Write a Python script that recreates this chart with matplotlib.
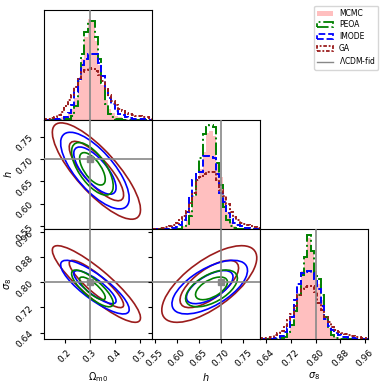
import numpy as np
import matplotlib
matplotlib.use("Agg")
import matplotlib.pyplot as plt
from matplotlib.patches import Ellipse, Patch
from matplotlib.lines import Line2D

# parameters, fiducial values and plot ranges
labels = [r"$\Omega_{\rm m0}$", r"$h$", r"$\sigma_8$"]
truths = [0.30, 0.70, 0.80]
ranges = [(0.116, 0.548), (0.543, 0.788), (0.62, 0.97)]
ticks = [[0.2, 0.3, 0.4, 0.5],
         [0.55, 0.60, 0.65, 0.70, 0.75],
         [0.64, 0.72, 0.80, 0.88, 0.96]]

methods = ["MCMC", "PEOA", "IMODE", "GA"]
colors = {"MCMC": "red", "PEOA": "green", "IMODE": "blue", "GA": "#9b1c1c"}
styles = {"PEOA": "-.", "IMODE": "--", "GA": (0, (2, 1, 1, 1))}

# 1D histograms (32 bins across each panel range, normalised to panel height)
hist_om = {
    "MCMC": [0, 0, 0, 0.005, 0.01, 0.02, 0.03, 0.06, 0.1, 0.2, 0.35, 0.55, 0.75, 0.92, 0.9, 0.72,
             0.5, 0.32, 0.18, 0.1, 0.06, 0.035, 0.02, 0.01, 0.005, 0, 0, 0, 0, 0, 0, 0],
    "PEOA": [0, 0, 0, 0, 0, 0, 0.005, 0.01, 0.03, 0.12, 0.35, 0.6, 0.8, 0.9, 0.9, 0.75,
             0.55, 0.33, 0.14, 0.05, 0.02, 0.01, 0.005, 0, 0, 0, 0, 0, 0, 0, 0, 0],
    "IMODE": [0, 0, 0, 0.005, 0.005, 0.01, 0.02, 0.06, 0.13, 0.25, 0.37, 0.5, 0.55, 0.6, 0.6, 0.6,
              0.52, 0.4, 0.28, 0.2, 0.14, 0.08, 0.055, 0.04, 0.025, 0.015, 0.01, 0.007, 0.005, 0.003, 0, 0],
    "GA": [0.005, 0.01, 0.015, 0.025, 0.04, 0.07, 0.12, 0.18, 0.22, 0.3, 0.38, 0.43, 0.45, 0.47, 0.46, 0.44,
           0.41, 0.35, 0.28, 0.22, 0.17, 0.13, 0.1, 0.075, 0.06, 0.05, 0.04, 0.035, 0.03, 0.025, 0.02, 0.015],
}
hist_h = {
    "MCMC": [0, 0, 0, 0, 0, 0, 0, 0.005, 0.01, 0.03, 0.08, 0.17, 0.3, 0.45, 0.55, 0.7,
             0.88, 0.9, 0.85, 0.6, 0.48, 0.3, 0.16, 0.07, 0.025, 0.01, 0.005, 0, 0, 0, 0, 0],
    "PEOA": [0, 0, 0, 0, 0, 0, 0, 0, 0.005, 0.02, 0.05, 0.12, 0.3, 0.5, 0.65, 0.87,
             0.93, 0.95, 0.93, 0.6, 0.4, 0.2, 0.08, 0.03, 0.01, 0.005, 0, 0, 0, 0, 0, 0],
    "IMODE": [0, 0, 0, 0, 0, 0.005, 0.01, 0.02, 0.04, 0.08, 0.16, 0.3, 0.45, 0.5, 0.52, 0.67,
              0.67, 0.66, 0.65, 0.5, 0.33, 0.25, 0.15, 0.09, 0.06, 0.04, 0.025, 0.015, 0.008, 0.004, 0, 0],
    "GA": [0.003, 0.005, 0.008, 0.012, 0.02, 0.03, 0.04, 0.06, 0.08, 0.12, 0.17, 0.24, 0.33, 0.45, 0.48, 0.5,
           0.52, 0.52, 0.52, 0.45, 0.36, 0.3, 0.23, 0.16, 0.11, 0.08, 0.06, 0.045, 0.035, 0.025, 0.02, 0.015],
}
hist_s8 = {
    "MCMC": [0, 0, 0, 0, 0, 0, 0.005, 0.015, 0.05, 0.13, 0.28, 0.42, 0.62, 0.75, 0.92, 0.8,
             0.62, 0.5, 0.35, 0.2, 0.1, 0.045, 0.015, 0.005, 0, 0, 0, 0, 0, 0, 0, 0],
    "PEOA": [0, 0, 0, 0, 0, 0, 0.005, 0.02, 0.06, 0.13, 0.25, 0.4, 0.58, 0.75, 0.95, 0.8,
             0.58, 0.55, 0.4, 0.2, 0.09, 0.035, 0.01, 0.005, 0, 0, 0, 0, 0, 0, 0, 0],
    "IMODE": [0, 0, 0, 0, 0.005, 0.01, 0.025, 0.06, 0.1, 0.2, 0.35, 0.5, 0.6, 0.61, 0.62, 0.6,
              0.55, 0.45, 0.3, 0.18, 0.12, 0.08, 0.05, 0.035, 0.02, 0.012, 0.008, 0.005, 0, 0, 0, 0],
    "GA": [0.003, 0.006, 0.01, 0.02, 0.035, 0.05, 0.07, 0.12, 0.17, 0.23, 0.3, 0.4, 0.45, 0.47, 0.48, 0.48,
           0.43, 0.33, 0.26, 0.2, 0.15, 0.11, 0.08, 0.06, 0.05, 0.04, 0.035, 0.03, 0.02, 0.015, 0.01, 0.005],
}
hists = [hist_om, hist_h, hist_s8]

# 2D contours: mean, std of (Om, h, s8) and correlations (Om-h, Om-s8, h-s8)
means = {"PEOA": [0.310, 0.678, 0.781], "IMODE": [0.320, 0.674, 0.785], "GA": [0.326, 0.673, 0.795]}
stds = {"PEOA": [0.034, 0.024, 0.024], "IMODE": [0.056, 0.035, 0.035], "GA": [0.072, 0.044, 0.050]}
corrs = {"PEOA": [-0.65, -0.80, 0.55], "IMODE": [-0.72, -0.83, 0.62], "GA": [-0.80, -0.88, 0.68]}
levels = [0.68, 0.95]
pair_idx = {(0, 1): 0, (0, 2): 1, (1, 2): 2}


def draw_contours(ax, name, i, j):
    m, s = means[name], stds[name]
    rho = corrs[name][pair_idx[(i, j)]]
    cov = np.array([[s[i] ** 2, rho * s[i] * s[j]], [rho * s[i] * s[j], s[j] ** 2]])
    vals, vecs = np.linalg.eigh(cov)
    angle = np.degrees(np.arctan2(vecs[1, 1], vecs[0, 1]))
    for lev in levels:
        r = np.sqrt(-2 * np.log(1 - lev))
        ax.add_patch(Ellipse((m[i], m[j]), 2 * r * np.sqrt(vals[1]), 2 * r * np.sqrt(vals[0]),
                             angle=angle, fill=False, ec=colors[name], lw=1.2))


fig, axes = plt.subplots(3, 3, figsize=(3.85, 3.85), dpi=100)
fig.subplots_adjust(left=0.114, right=0.956, bottom=0.12, top=0.974, wspace=0, hspace=0)

truth_kw = dict(color="#888888", lw=1.2, zorder=5)

for row in range(3):
    for col in range(3):
        ax = axes[row, col]
        if col > row:
            ax.set_axis_off()
            continue
        ax.set_xlim(ranges[col])
        ax.set_xticks(ticks[col])
        if row == col:
            edges = np.linspace(ranges[col][0], ranges[col][1], 33)
            for name in methods:
                if name == "MCMC":
                    ax.stairs(hists[col][name], edges, fill=True, color="red", alpha=0.25, lw=0)
                else:
                    ax.stairs(hists[col][name], edges, color=colors[name], ls=styles[name], lw=1.4)
            ax.set_ylim(0, 1.0)
            ax.set_yticks([])
            ax.axvline(truths[col], **truth_kw)
        else:
            for name in ["GA", "IMODE", "PEOA"]:
                draw_contours(ax, name, col, row)
            ax.set_ylim(ranges[row])
            ax.set_yticks(ticks[row])
            ax.axvline(truths[col], **truth_kw)
            ax.axhline(truths[row], **truth_kw)
            ax.plot(truths[col], truths[row], "s", color="#888888", ms=4, zorder=6)
            if col == 0:
                ax.set_ylabel(labels[row], fontsize=7)
                ax.yaxis.set_label_coords(-0.28, 0.5)
                for lab in ax.get_yticklabels():
                    lab.set_rotation(45)
                    lab.set_fontsize(6.5)
            else:
                ax.set_yticklabels([])
        if row == 2:
            ax.set_xlabel(labels[col], fontsize=7)
            ax.xaxis.set_label_coords(0.5, -0.29)
            for lab in ax.get_xticklabels():
                lab.set_rotation(45)
                lab.set_fontsize(6.5)
        else:
            ax.set_xticklabels([])
        ax.tick_params(length=3, width=0.8)

handles = [Patch(facecolor="red", alpha=0.25, label="MCMC"),
           Patch(facecolor="none", edgecolor=colors["PEOA"], ls="-.", lw=1.3, label="PEOA"),
           Patch(facecolor="none", edgecolor=colors["IMODE"], ls="--", lw=1.3, label="IMODE"),
           Patch(facecolor="none", edgecolor=colors["GA"], ls=styles["GA"], lw=1.3, label="GA"),
           Line2D([], [], color="#888888", lw=1, label=r"$\Lambda$CDM-fid")]
fig.legend(handles=handles, loc="upper right", bbox_to_anchor=(0.993, 0.995), fontsize=5.5,
           handlelength=2.0, handleheight=0.6, borderpad=0.4, labelspacing=0.35, handletextpad=0.8)

fig.savefig("out.png", dpi=100)
